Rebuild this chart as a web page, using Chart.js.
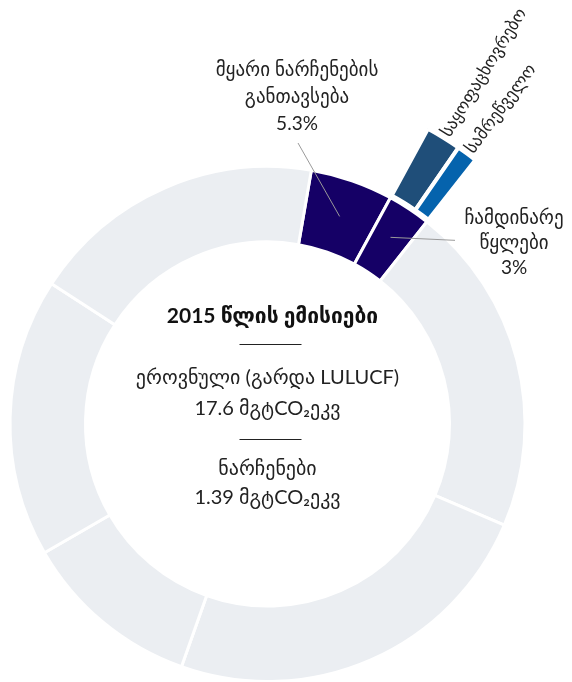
<!DOCTYPE html>
<html>
<head>
<meta charset="utf-8">
<script src="https://cdn.jsdelivr.net/npm/chart.js@4.4.1/dist/chart.umd.min.js"></script>
<style>
    body{ margin:0; background:#fff; }
    #wrap{ position:relative; width:572px; height:682px; }
</style>
</head>
<body>
<div id="wrap"><canvas id="myChart"></canvas></div>
<script>
// Chart data

    // inner ring: waste sectors first, then the rest of the emissions (grey)
    const sectorLabels = ['მყარი ნარჩენების განთავსება', 'ჩამდინარე წყლები', '', '', '', '', ''];
    const sectorValues = [5.2, 2.7, 20.8, 24.0, 11.25, 17.5, 18.55];

    // outer ring: wastewater split (only the two middle slices are shown)
    const wasteLabels = ['', 'საყოფაცხოვრებო', 'სამრეწველო', ''];
    const wasteValues = [5.2, 1.7, 1.0, 92.1];

    // texts in the middle of the ring
    const centerTitle = '2015 წლის ემისიები';
    const centerNational = ['ეროვნული (გარდა LULUCF)', '17.6 მგტCO₂ეკვ'];
    const centerWaste = ['ნარჩენები', '1.39 მგტCO₂ეკვ'];

    // callout texts
    const solidLabel = ['მყარი ნარჩენების', 'განთავსება', '5.3%'];
    const waterLabel = ['ჩამდინარე', 'წყლები', '3%'];

// End chart data

    const NAVY = '#150066';
    const GREY = '#EBEEF2';
    const FONT = "Lato, 'DejaVu Sans', sans-serif";

    const sectorColors = sectorValues.map((v, i) => i < 2 ? NAVY : GREY);
    const wasteColors = ['rgba(0,0,0,0)', '#1F4E79', '#0563AD', 'rgba(0,0,0,0)'];
    const wasteBorders = wasteValues.map((v, i) => (i == 1 || i == 2) ? 4 : 0);

    // point in the middle of an arc element
    function arcPoint(el, frac){
        const p = el.getProps(['x', 'y', 'startAngle', 'endAngle', 'innerRadius', 'outerRadius']);
        const a = (p.startAngle + p.endAngle) / 2;
        const r = p.innerRadius + (p.outerRadius - p.innerRadius) * frac;
        return {x: p.x + Math.cos(a) * r, y: p.y + Math.sin(a) * r, a: a, p: p};
    }

    function lines(ctx, arr, x, y, step){
        arr.forEach((t, i) => ctx.fillText(t, x, y + i * step));
    }

    // Draw all texts and leader lines
    const labelPlugin = {
        id: 'labelPlugin',
        afterDatasetsDraw(chart){
            const ctx = chart.ctx;
            const outer = chart.getDatasetMeta(0).data;
            const inner = chart.getDatasetMeta(2).data;
            ctx.save();
            ctx.textBaseline = 'middle';

            // leader lines
            ctx.strokeStyle = '#9a9a9a';
            ctx.lineWidth = 1;
            const s = arcPoint(inner[0], 0.5);
            ctx.beginPath();
            ctx.moveTo(298, 143);
            ctx.lineTo(s.x, s.y);
            ctx.stroke();
            const w = arcPoint(inner[1], 0.55);
            ctx.beginPath();
            ctx.moveTo(w.x, w.y);
            ctx.lineTo(455, w.y + 3);
            ctx.stroke();

            // callouts
            ctx.fillStyle = '#222';
            ctx.textAlign = 'center';
            ctx.font = '19px ' + FONT;
            lines(ctx, solidLabel, 297, 70, 27);
            lines(ctx, waterLabel, 514, 218, 25);

            // rotated labels on the outer bars
            ctx.font = '17px ' + FONT;
            ctx.textAlign = 'left';
            [1, 2].forEach(i => {
                const o = arcPoint(outer[i], 1);
                const r = o.p.outerRadius + 3;
                ctx.save();
                ctx.translate(o.p.x + Math.cos(o.a) * r, o.p.y + Math.sin(o.a) * r);
                ctx.rotate(o.a);
                ctx.fillText(wasteLabels[i], 0, 0);
                ctx.restore();
            });

            // center text
            const cx = inner[0].x;
            ctx.textAlign = 'center';
            ctx.fillStyle = '#111';
            ctx.font = 'bold 21px ' + FONT;
            ctx.fillText(centerTitle, cx + 5, 316);
            ctx.fillStyle = '#222';
            ctx.font = '20px ' + FONT;
            lines(ctx, centerNational, cx, 378, 31);
            lines(ctx, centerWaste, cx, 469, 29);
            ctx.strokeStyle = '#222';
            [344, 439].forEach(y => {
                ctx.beginPath();
                ctx.moveTo(cx - 28, y + 0.5);
                ctx.lineTo(cx + 34, y + 0.5);
                ctx.stroke();
            });
            ctx.restore();
        }
    };

    const ctx = document.getElementById('myChart').getContext('2d');
    const myChart = new Chart(ctx, {
        type: 'doughnut',
        data: {
            labels: sectorLabels,
            datasets: [{
                label: 'ჩამდინარე წყლები',
                data: wasteValues,
                backgroundColor: wasteColors,
                borderColor: '#fff',
                borderWidth: wasteBorders,
                weight: 76
            }, {
                label: 'gap',
                data: [100],
                backgroundColor: 'rgba(0,0,0,0)',
                borderWidth: 0,
                weight: 2.5
            }, {
                label: 'ემისიები',
                data: sectorValues,
                backgroundColor: sectorColors,
                borderColor: '#fff',
                borderWidth: 3,
                weight: 75.5
            }]
        },
        options: {
            responsive: true,
            maintainAspectRatio: false,
            animation: false,
            radius: 336,
            cutout: '54.17%',
            rotation: 9.8,
            layout: { padding: { left: 0, right: 37, top: 166, bottom: 0 } },
            plugins: {
                legend: { display: false },
                tooltip: { enabled: false }
            }
        },
        plugins: [labelPlugin]
    });
</script>
</body>
</html>
